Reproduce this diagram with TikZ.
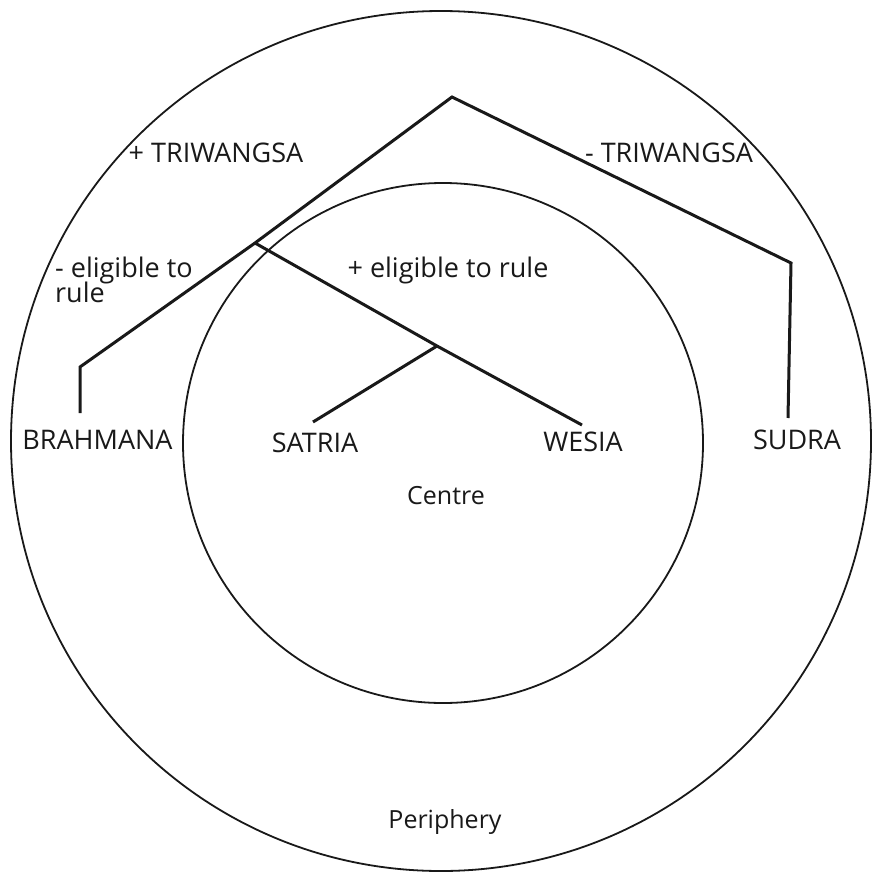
\documentclass[tikz,border=0pt]{standalone}
\usepackage{fontspec}
\setmainfont{Open Sans}
\begin{document}
\begin{tikzpicture}[x=1pt,y=-1pt,
  ring/.style={draw=black!90, line width=1.8pt},
  branch/.style={draw=black!90, line width=3pt, line join=miter},
  lab/.style={inner sep=0pt, anchor=base, font=\fontsize{27}{27}\selectfont, text=black!90},
  labl/.style={inner sep=0pt, anchor=base west, font=\fontsize{27}{27}\selectfont, text=black!90},
  small/.style={inner sep=0pt, anchor=base, font=\fontsize{25}{25}\selectfont, text=black!90}]
\useasboundingbox (0,0) rectangle (872,875);
\fill[white] (0,0) rectangle (872,875);
% circles
\draw[ring] (441,441) circle[radius=430];
\draw[ring] (443,443) circle[radius=260];
% tree points
\coordinate (apex) at (452,97);
\coordinate (jL) at (255,243);
\coordinate (bBend) at (80,367);
\coordinate (bEnd) at (80,413);
\coordinate (sub) at (437,346);
\coordinate (satEnd) at (313,422);
\coordinate (wesEnd) at (582,425);
\coordinate (sBend) at (791,263);
\coordinate (sEnd) at (788,418);
% tree
\draw[branch] (bEnd) -- (bBend) -- (jL) -- (apex) -- (sBend) -- (sEnd);
\draw[branch] (jL) -- (sub) -- (wesEnd);
\draw[branch] (sub) -- (satEnd);
% labels
\node[lab] (plusT) at (216,162) {+ TRIWANGSA};
\node[lab] (minusT) at (669,162) {- TRIWANGSA};
\node[labl] (elig1) at (55,277) {- eligible to};
\node[labl] (elig2) at (55,302) {rule};
\node[lab] (plusE) at (448,277) {+ eligible to rule};
\node[lab] (brah) at (97.5,449) {BRAHMANA};
\node[lab] (sat) at (315,452) {SATRIA};
\node[lab] (wes) at (583,451) {WESIA};
\node[lab] (sud) at (797,449) {SUDRA};
\node[small] (centre) at (446,504) {Centre};
\node[small] (peri) at (445,828) {Periphery};
\end{tikzpicture}
\end{document}
